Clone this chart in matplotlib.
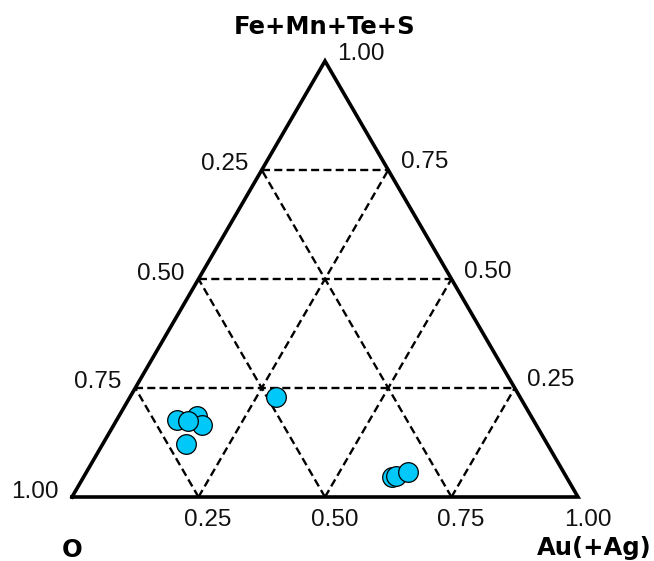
import matplotlib
matplotlib.use("Agg")
import matplotlib.pyplot as plt
import numpy as np

# ternary data (fractions): Fe+Mn+Te+S (top), Au(+Ag) (right), O (left)
fe = [0.177, 0.186, 0.164, 0.175, 0.122, 0.230, 0.045, 0.048, 0.058]
au = [0.119, 0.155, 0.175, 0.142, 0.164, 0.288, 0.609, 0.616, 0.636]
o = [round(1 - a - b, 3) for a, b in zip(fe, au)]

grid_levels = [0.25, 0.50, 0.75]
tick_vals = [0.25, 0.50, 0.75, 1.00]
tick_labels = ["0.25", "0.50", "0.75", "1.00"]
title_top = "Fe+Mn+Te+S"
title_left = "O"
title_right = "Au(+Ag)"


def cart(f, a):
    f = np.asarray(f, float)
    a = np.asarray(a, float)
    return a + f / 2.0, f


fig = plt.figure(figsize=(6.54, 5.61), dpi=100)
ax = fig.add_axes([0, 0, 1, 1])
ax.set_xlim(-72 / 506, 582 / 506)
ax.set_ylim(-64 / 436, (561 - 64) / 436)
ax.axis("off")

# dashed grid
for k in grid_levels:
    segs = [((k, 0), (k, 1 - k)),          # Fe const: (fe, au)
            ((0, k), (1 - k, k)),          # Au const
            ((0, 1 - k), (1 - k, 0))]      # O const
    for (f1, a1), (f2, a2) in segs:
        x, y = cart([f1, f2], [a1, a2])
        ax.plot(x, y, color="black", lw=1.7, ls=(0, (3.4, 1.8)), zorder=1)

# triangle outline
tx, ty = cart([0, 0, 1, 0, 0], [0, 1, 0, 0, 1])
ax.plot(tx[:4], ty[:4], color="black", lw=2.6, solid_joinstyle="miter",
        solid_capstyle="projecting", zorder=2)

# points
px, py = cart(fe, au)
ax.scatter(px, py, s=200, color="#00C8F8", edgecolor="black", linewidth=0.9,
           zorder=3)

tfont = dict(family="Liberation Sans", fontsize=17.5, color="#111111")
sx = 1 / 506  # data units per px horizontally
sy = 1 / 436

for v, lab in zip(tick_vals, tick_labels):
    # bottom (Au)
    x, y = cart(0, v)
    ax.text(x + 9.5 * sx, y - 23 * sy, lab, ha="center", va="center", **tfont)
    # left (O): point on left edge where O = v -> Fe = 1 - v, Au = 0
    x, y = cart(1 - v, 0)
    ax.text(x - 13.5 * sx, y + 5.5 * sy, lab, ha="right", va="center", **tfont)
    # right (Fe): point on right edge where Fe = v, Au = 1 - v
    x, y = cart(v, 1 - v)
    ax.text(x + 12.5 * sx, y + 7.5 * sy, lab, ha="left", va="center", **tfont)

bfont = dict(family="DejaVu Sans", fontweight="bold", fontsize=17.5, color="black")
x, y = cart(1, 0)
ax.text(x, y + 34 * sy, title_top, ha="center", va="center", **bfont)
x, y = cart(0, 0)
ax.text(x + 0.5 * sx, y - 53 * sy, title_left, ha="center", va="center", **bfont)
x, y = cart(0, 1)
ax.text(x + 74 * sx, y - 51 * sy, title_right, ha="right", va="center", **bfont)

fig.savefig("out.png", dpi=100)
